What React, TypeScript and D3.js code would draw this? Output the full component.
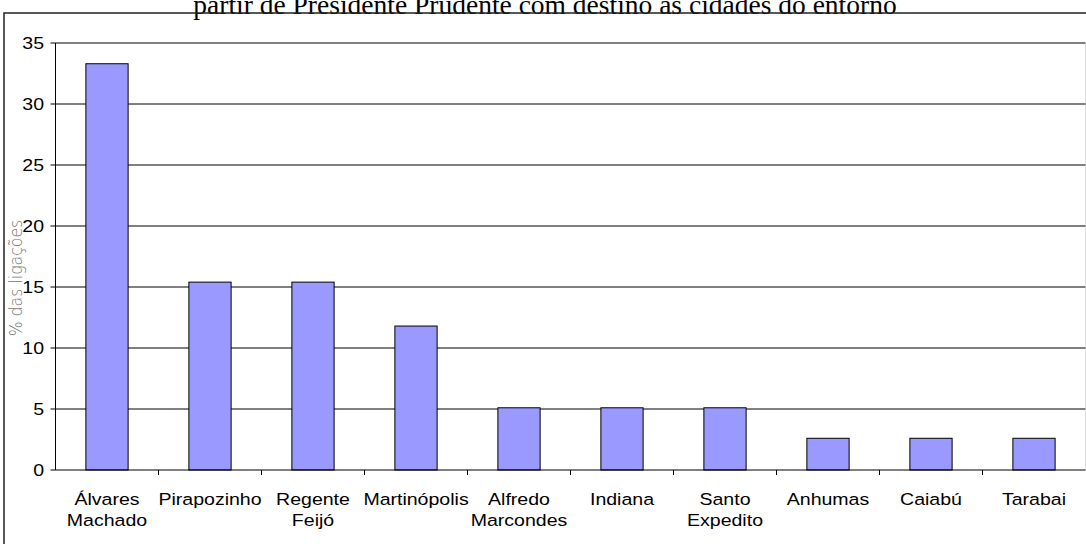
import React from "react";
import * as d3 from "d3";

const categories = [
  ["Álvares", "Machado"],
  ["Pirapozinho"],
  ["Regente", "Feijó"],
  ["Martinópolis"],
  ["Alfredo", "Marcondes"],
  ["Indiana"],
  ["Santo", "Expedito"],
  ["Anhumas"],
  ["Caiabú"],
  ["Tarabai"],
];
const values = [33.3, 15.4, 15.4, 11.8, 5.1, 5.1, 5.1, 2.6, 2.6, 2.6];
const yTicks = [0, 5, 10, 15, 20, 25, 30, 35];
const title = "partir de Presidente Prudente com destino às cidades do entorno";
const yTitle = "% das ligações";

export default function App() {
  const W = 1086, H = 544;
  const left = 55.5, right = 1085.5, top = 43, bottom = 470;
  const x = d3.scaleBand<number>().domain(d3.range(values.length)).range([left, right]).paddingInner(0.59).paddingOuter(0.295);
  const band = (right - left) / values.length;
  const y = d3.scaleLinear().domain([0, 35]).range([bottom, top]);
  const font = "Liberation Sans, Arial, sans-serif";
  const sx = 1.15;
  return (
    <svg width={W} height={H} style={{ position: "absolute", left: 0, top: 0, background: "#fff" }}>
      <rect x={0} y={0} width={W} height={H} fill="#fff" />
      <text x={545} y={14} textAnchor="middle" fontFamily="Liberation Serif, Times New Roman, serif" fontSize={27.5} fill="#000">{title}</text>
      <rect x={4} y={13} width={W + 10} height={H} fill="none" stroke="#222" strokeWidth={1.5} />
      <line x1={right} x2={right} y1={top} y2={bottom} stroke="#ddd" strokeWidth={1} />
      {yTicks.filter(t => t > 0 && t < 35).map(t => (
        <line key={t} x1={left} x2={right} y1={y(t)} y2={y(t)} stroke="#000" strokeWidth={1} />
      ))}
      <line x1={left} x2={right} y1={y(35)} y2={y(35)} stroke="#808080" strokeWidth={2} />
      {values.map((v, i) => (
        <rect key={i} x={x(i)} y={y(v)} width={x.bandwidth()} height={bottom - y(v)} fill="#9999ff" stroke="#000" strokeWidth={1} />
      ))}
      <line x1={left} x2={left} y1={top} y2={bottom} stroke="#000" strokeWidth={1} />
      <line x1={left} x2={right} y1={bottom} y2={bottom} stroke="#000" strokeWidth={1} />
      {yTicks.map(t => (
        <g key={t}>
          <line x1={left - 5} x2={left} y1={y(t)} y2={y(t)} stroke="#000" />
          <text transform={`translate(44,${y(t) + 6}) scale(${sx},1)`} textAnchor="end" fontFamily={font} fontSize={17} fill="#000">{t}</text>
        </g>
      ))}
      {d3.range(1, values.length).map(i => (
        <line key={i} x1={left + i * band} x2={left + i * band} y1={bottom} y2={bottom + 5} stroke="#000" />
      ))}
      {categories.map((lines, i) => (
        <g key={i} transform={`translate(${x(i)! + x.bandwidth() / 2},0) scale(${sx},1)`}>
          <text textAnchor="middle" fontFamily={font} fontSize={17} fill="#000">
            {lines.map((l, j) => (
              <tspan key={j} x={0} y={505 + j * 21}>{l}</tspan>
            ))}
          </text>
        </g>
      ))}
      <text transform={`translate(22,278) rotate(-90) scale(0.85,1)`} textAnchor="middle" fontFamily="DejaVu Sans, sans-serif" fontWeight={200} fontSize={18.5} fill="#777">{yTitle}</text>
    </svg>
  );
}
